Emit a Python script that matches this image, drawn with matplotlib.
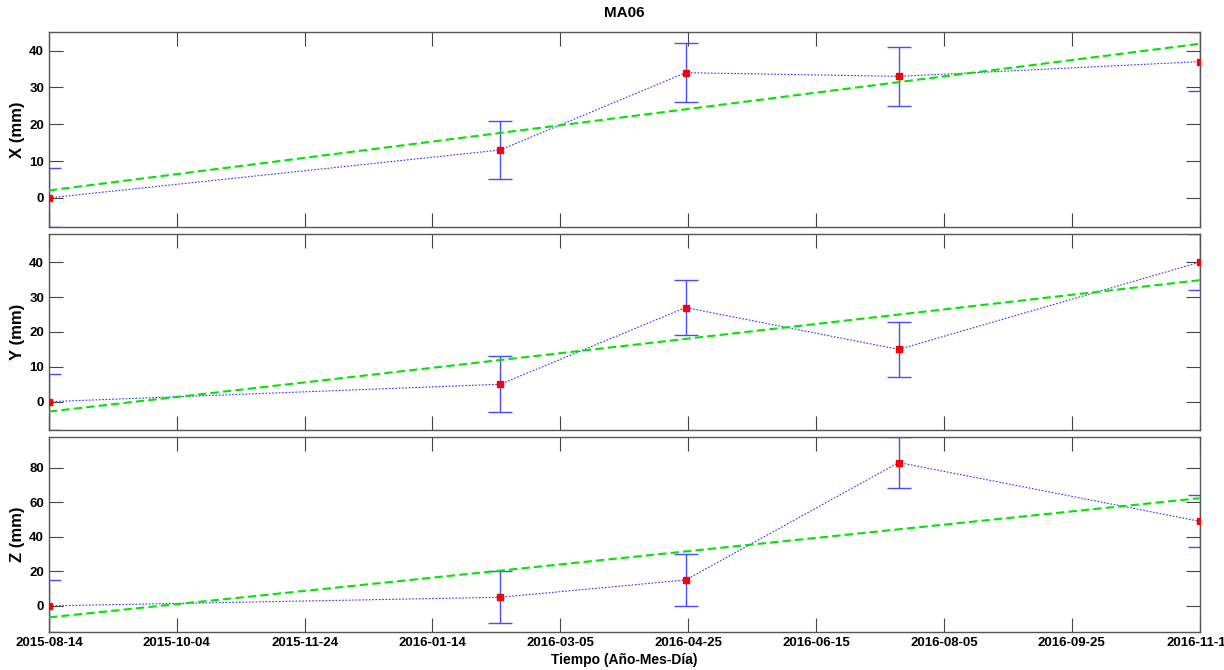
import numpy as np
import matplotlib
matplotlib.use("Agg")
import matplotlib.pyplot as plt
import matplotlib.dates as mdates
from datetime import date, timedelta

plt.rcParams['font.family'] = ['Liberation Sans', 'DejaVu Sans']
plt.rcParams['font.weight'] = 'bold'

# survey dates and displacements (mm)
fechas = [date(2015, 8, 14), date(2016, 2, 10), date(2016, 4, 24),
          date(2016, 7, 18), date(2016, 11, 15)]
dx = [0, 13, 34, 33, 37]
dy = [0, 5, 27, 15, 40]
dz = [0, 5, 15, 83, 49]
err_xy = 8
err_z = 15

tick_dates = [date(2015, 8, 14) + timedelta(days=51 * k) for k in range(10)]

series = [("X (mm)", dx, err_xy, [0, 10, 20, 30, 40]),
          ("Y (mm)", dy, err_xy, [0, 10, 20, 30, 40]),
          ("Z (mm)", dz, err_z, [0, 20, 40, 60, 80])]

t = mdates.date2num(fechas)

fig, axes = plt.subplots(3, 1, figsize=(12.24, 6.70), dpi=100, sharex=True)
fig.subplots_adjust(left=0.040, right=0.980, top=0.952, bottom=0.057, hspace=0.036)

for ax, (lab, vals, err, yt) in zip(axes, series):
    vals = np.array(vals, dtype=float)
    # linear trend
    p = np.polyfit(t, vals, 1)
    ax.plot(t, np.polyval(p, t), color='#00e600', ls=(0, (4, 2)), lw=1.5, zorder=3)
    ax.errorbar(t, vals, yerr=err, fmt='none', ecolor='#4a4aff', elinewidth=1.0,
                capsize=8.6, capthick=1.0, zorder=2)
    ax.plot(t, vals, color='#3333ff', ls=(0, (1.5, 1.5)), lw=0.8, zorder=2)
    ax.plot(t, vals, 's', color='red', ms=4.5, zorder=4)
    ax.set_ylim(vals.min() - err, vals.max() + err)
    ax.set_yticks(yt)
    ax.set_ylabel(lab, fontsize=12, fontweight='bold')
    ax.tick_params(direction='in', length=10, top=True, right=True,
                   labelsize=9.5, color='#444444')
    for s in ax.spines.values():
        s.set_color('#555555')
        s.set_linewidth(1.0)

axes[0].set_title("MA06", fontsize=11, fontweight='bold', pad=11)
axes[-1].set_xlim(mdates.date2num(tick_dates[0]), mdates.date2num(date(2016, 11, 15)))
axes[-1].set_xticks(mdates.date2num(tick_dates))
axes[-1].xaxis.set_major_formatter(mdates.DateFormatter('%Y-%m-%d'))
axes[-1].set_xlabel("Tiempo (Año-Mes-Día)", fontsize=10, fontweight='bold', labelpad=3)
for ax in axes:
    ax.yaxis.set_label_coords(-0.021, 0.5)

fig.savefig("out.png", dpi=100)
